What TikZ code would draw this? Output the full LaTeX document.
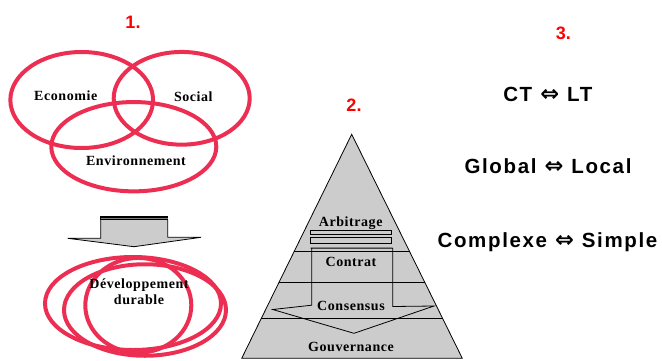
\documentclass[tikz,border=0pt]{standalone}
\usepackage{fontspec}
\setmainfont{Liberation Serif}
\newfontfamily\serifsp{Liberation Serif}[LetterSpace=4]
\newfontfamily\sansb{Liberation Sans}
\newfontfamily\sanssp{Liberation Sans}[LetterSpace=8]
\newfontfamily\djv{DejaVu Sans}
\usetikzlibrary{shapes.geometric,calc}
\definecolor{vred}{RGB}{236,46,82}
\definecolor{pgray}{RGB}{204,204,204}
\tikzset{
 ring/.style={ellipse, draw=vred, line width=4pt, inner sep=0pt},
 lbl/.style={font=\serifsp\fontsize{14}{16.4}\selectfont\bfseries, inner sep=0pt, align=center, anchor=base},
 num/.style={font=\sansb\fontsize{18}{20}\selectfont\bfseries, text=red, inner sep=0pt, anchor=base},
 pair/.style={font=\sanssp\fontsize{20.5}{24}\selectfont\bfseries, inner sep=0pt, anchor=base},
 edge/.style={draw=black, line width=0.8pt},
}
\newcommand{\dar}{\hspace{8pt}{\djv\fontsize{22.5}{24}\selectfont\bfseries ⇔}\hspace{8pt}}
\begin{document}
\begin{tikzpicture}[x=1pt,y=-1pt]
\useasboundingbox (0,0) rectangle (662,360);

% ---- 1. Venn
\node[num] (n1) at (133,28.3) {1.};
\node[ring, minimum width=142.7pt, minimum height=96pt] (eco) at (81.7,100) {};
\node[ring, minimum width=136pt, minimum height=92.7pt] (soc) at (181.7,98.3) {};
\node[ring, minimum width=165pt, minimum height=89.3pt] (env) at (133.8,146.7) {};
\node[lbl] (teco) at (65.7,100) {Economie};
\node[lbl] (tsoc) at (193.3,101.7) {Social};
\node[lbl] (tenv) at (136,165.7) {Environnement};

% ---- left arrow
\coordinate (la1) at (100.7,219.5);
\coordinate (la2) at (100.7,238.3);
\coordinate (la3) at (67.7,238.3);
\coordinate (la4) at (134,246.7);
\coordinate (la5) at (201,237.3);
\coordinate (la6) at (167.7,237.3);
\coordinate (la7) at (167.7,219.5);
\fill[pgray] (la1) -- (la2) -- (la3) -- (la4) -- (la5) -- (la6) -- (la7) -- cycle;
\draw[edge] (la1) -- (la2) -- (la3) -- (la4) -- (la5) -- (la6) -- (la7);
\fill[black] (100.3,215.5) rectangle (168.1,220);
\draw[gray, line width=0.5pt] (100.7,218.3) -- (167.7,218.3);

% ---- Developpement durable
\node[ring, minimum width=176pt, minimum height=93pt] (dda) at (133,303.5) {};
\node[ring, minimum width=162pt, minimum height=91.5pt] (ddb) at (145,310) {};
\node[ring, minimum width=106pt, minimum height=94.7pt] (ddc) at (138.3,305.3) {};
\node[lbl] (tdd) at (139,304.5) {Développement\\durable};

% ---- 2. pyramid
\node[num] (n2) at (354,111) {2.};
\coordinate (apex) at (351.7,134.3);
\coordinate (bl) at (241.7,358.3);
\coordinate (br) at (462.3,358.3);
\draw[edge, fill=pgray] (apex) -- (bl) -- (br) -- cycle;
\foreach \t/\nm in {0.524/a, 0.661/b, 0.821/c}
  \draw[edge] ($(apex)!\t!(bl)$) coordinate (l\nm) -- ($(apex)!\t!(br)$) coordinate (r\nm);
\draw[edge] (310.7,230) rectangle (391.7,234.3);
\draw[edge] (310.7,237.5) rectangle (391.7,243.1);
\coordinate (pa1) at (310.7,248.1);
\coordinate (pa2) at (311.7,305.2);
\coordinate (pa3) at (272.7,309.5);
\coordinate (pa4) at (354,333.3);
\coordinate (pa5) at (434,306);
\coordinate (pa6) at (392.7,306.5);
\coordinate (pa7) at (392.7,248.1);
\draw[edge] (pa1) -- (pa7) (311.7,248.1) -- (pa2) -- (pa3) -- (pa4) -- (pa5) -- (pa6) -- (pa7);
\node[lbl] (tarb) at (350.7,226) {Arbitrage};
\node[lbl] (tcon) at (351,266.7) {Contrat};
\node[lbl] (tcns) at (351,310) {Consensus};
\node[lbl] (tgov) at (351,351) {Gouvernance};

% ---- 3.
\node[num] (n3) at (563.3,39.3) {3.};
\node[pair] (p1) at (547.8,101.7) {CT\dar LT};
\node[pair] (p2) at (548,173.3) {Global\dar Local};
\node[pair] (p3) at (547.5,247.3) {Complexe\dar Simple};
\end{tikzpicture}
\end{document}
